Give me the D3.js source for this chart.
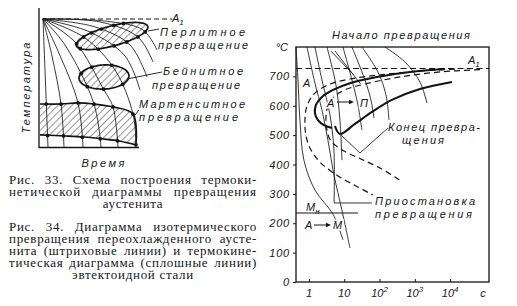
<!DOCTYPE html>
<html>
<head>
<meta charset="utf-8">
<script src="https://cdn.jsdelivr.net/npm/d3@7"></script>
<style>
  html, body { margin: 0; padding: 0; background: #fff; }
  svg { display: block; }
  .lab { font-family: "Liberation Sans", Arial, sans-serif; font-style: italic; fill: #161616; }
  .cap { font-family: "Liberation Serif", "Times New Roman", serif; fill: #161616; }
</style>
</head>
<body>
<svg id="chart" width="517" height="306"></svg>
<script>
// ---- Рис. 33: schematic in relative units (time 0..130, temperature 0..100, A1 = 100)
const schemeFan = [
    [[3, 100], [5, 60], [8, 0]],
    [[3, 100], [12, 71], [21, 33.6], [24, 0]],
    [[3, 100], [18, 75], [38, 34.4], [43, 0]],
    [[3, 100], [25, 79.7], [54, 33.6], [61, 0]],
    [[3, 100], [35, 82], [64, 44.5], [73, 31.3], [78, 0]],
    [[3, 100], [45, 85.2], [75, 60.2], [93, 25.8], [96, 0]],
    [[3, 100], [50, 89.8], [85, 71.1], [100, 44.5]],
    [[3, 100], [55, 93.8], [90, 79.7], [107, 54.7]],
    [[3, 100], [60, 97.7], [98, 85.9], [113, 66.4]],
    [[3, 100], [65, 98.4], [103, 91.4], [117, 75.8]]
];
const pearliteZone = {t: 72, T: 86.7, rt: 37, rT: 7.8, tilt: -15};
const bainiteZone = {t: 64, T: 54.7, rt: 25, rT: 9.4, tilt: -3};
const martensiteTop = [[0, 33.6], [21, 33.6], [38, 34.4], [54, 33.6], [73, 31.3], [93, 25.8], [96, 2]];
const martensiteBottom = [[96, 1.6], [79, 4.7], [63, 6.3], [44, 7.8], [26, 8.6], [0, 9.4]];

// ---- Рис. 34: time in seconds (log), temperature in °C
const xTicks = [1, 10, 100, 1000, 10000];
const xTickLabels = [["1", ""], ["10", ""], ["10", "2"], ["10", "3"], ["10", "4"]];
const yTicks = [0, 100, 200, 300, 400, 500, 600, 700];
const tempA1 = 727;
const tempMs = 235;
const msEnd = 24.4;

// isothermal diagram (dashed)
const startIso = [[13680, 725], [1394, 718], [102.6, 705], [14.5, 691], [3.45, 671], [1.39, 640], [0.88, 599],
    [0.77, 551], [0.82, 500], [1.07, 456], [2.05, 408], [6.63, 361], [21.4, 327], [65, 296]];
const endIso = [[69800, 723], [5140, 715], [378, 698], [38.6, 674], [10.5, 654], [5.11, 630], [3.45, 599],
    [3.03, 558], [3.24, 517], [4.2, 480], [9.8, 446], [29.7, 419], [102.6, 388], [378, 347]];

// thermokinetic diagram (heavy solid)
const startCct = [[7130, 725], [726, 715], [84.4, 698], [14.5, 677], [4.79, 654], [2.33, 630], [1.58, 603],
    [1.48, 575], [1.8, 551], [2.66, 534], [4.48, 524]];
const endCct = [[5.45, 531], [7.55, 504], [20, 538], [60.9, 579], [224, 620], [1394, 657], [11250, 681]];

// cooling curves (thin solid)
const coolingCurves = [
    [[0.43, 800], [0.49, 688], [0.556, 551], [0.72, 415], [1.48, 313], [4.79, 231], [9.2, 143]],
    [[0.88, 800], [1.48, 677], [2.33, 586], [3.45, 483], [5.1, 364], [8.6, 245], [14.5, 116]],
    [[1.48, 800], [2.33, 688], [3.94, 569], [5.1, 449], [5.15, 269]],
    [[3.24, 800], [5.82, 671], [7.55, 551], [8.6, 415]],
    [[9.2, 800], [16.5, 688], [24.4, 603], [31.7, 517]],
    [[16.5, 800], [38.6, 688], [57, 620], [69.4, 558]],
    [[31.7, 800], [90, 715], [152, 637], [185, 551]],
    [[142, 800], [525, 749], [1394, 681], [2200, 609]]
];

// label leaders
const leaderStart = [[[4.2, 786], [18.5, 705]], [[5.5, 786], [29, 674]]];
const leaderEnd = [[173, 524], [27.9, 439], [7.55, 504]];
const leaderPause = [[5.15, 269], [60.9, 269]];

const captions = [
    {text: "Рис. 33. Схема построения термоки-", y: 184, justify: true},
    {text: "нетической диаграммы превращения", y: 196, justify: true},
    {text: "аустенита", y: 208, justify: false},
    {text: "Рис. 34. Диаграмма изотермического", y: 231, justify: true},
    {text: "превращения переохлажденного аусте-", y: 243, justify: true},
    {text: "нита (штриховые линии) и термокине-", y: 255, justify: true},
    {text: "тическая диаграмма (сплошные линии)", y: 267, justify: true},
    {text: "эвтектоидной стали", y: 279, justify: false}
];

const ink = "#141414";
const svg = d3.select("#chart");

const defs = svg.append("defs");
defs.append("pattern")
    .attr("id", "hatch")
    .attr("patternUnits", "userSpaceOnUse")
    .attr("width", 5).attr("height", 5)
    .attr("patternTransform", "rotate(45)")
    .append("line")
    .attr("x1", 0).attr("y1", 0).attr("x2", 0).attr("y2", 5)
    .attr("stroke", ink).attr("stroke-width", 0.9);

function label(g, x, y, str, w, size) {
    const t = g.append("text")
        .attr("class", "lab")
        .attr("x", x).attr("y", y)
        .attr("font-size", size || 11)
        .text(str);
    if (w) t.attr("textLength", w).attr("lengthAdjust", "spacing");
    return t;
}

function subLabel(g, x, y, main, sub, size) {
    const t = g.append("text").attr("class", "lab").attr("x", x).attr("y", y).attr("font-size", size || 11);
    t.append("tspan").text(main);
    t.append("tspan").attr("dy", 3).attr("font-size", (size || 11) - 3).text(sub);
    return t;
}

function samplePath(node, n) {
    const len = node.getTotalLength();
    return d3.range(n + 1).map(i => {
        const p = node.getPointAtLength(len * i / n);
        return [p.x, p.y];
    });
}

drawScheme();
drawDiagram();
drawCaptions();

function drawScheme() {
    const sx = d3.scaleLinear().domain([0, 130]).range([40, 170]);
    const sy = d3.scaleLinear().domain([0, 100]).range([147, 19]);
    const g = svg.append("g");

    function ellipsePts(z) {
        const cx = sx(z.t), cy = sy(z.T);
        const rx = sx(z.t + z.rt) - cx, ry = sy(z.T) - sy(z.T + z.rT);
        const a = z.tilt * Math.PI / 180;
        return d3.range(90).map(i => {
            const th = i / 90 * 2 * Math.PI;
            const ex = rx * Math.cos(th), ey = ry * Math.sin(th);
            return [cx + ex * Math.cos(a) - ey * Math.sin(a), cy + ex * Math.sin(a) + ey * Math.cos(a)];
        });
    }

    // martensite band
    const mLine = d3.line().x(d => sx(d[0])).y(d => sy(d[1])).curve(d3.curveCatmullRom);
    const mPath = mLine(martensiteTop) + "L" + mLine(martensiteBottom).slice(1) + "Z";
    g.append("path").attr("d", mPath).attr("fill", "url(#hatch)").attr("stroke", "none");
    g.append("path").attr("d", mLine(martensiteTop)).attr("fill", "none").attr("stroke", ink).attr("stroke-width", 1.7);
    g.append("path").attr("d", mLine(martensiteBottom)).attr("fill", "none").attr("stroke", ink).attr("stroke-width", 1.7);
    const mNode = g.append("path").attr("d", mPath).attr("fill", "none").attr("stroke", "none").node();
    const mPoly = samplePath(mNode, 300);

    // ellipses
    const polys = [mPoly];
    [pearliteZone, bainiteZone].forEach(z => {
        const pts = ellipsePts(z);
        polys.push(pts);
        g.append("path")
            .attr("d", d3.line().curve(d3.curveLinearClosed)(pts))
            .attr("fill", "url(#hatch)")
            .attr("stroke", ink)
            .attr("stroke-width", 1.7);
    });

    // axes
    g.append("line").attr("x1", 39).attr("y1", 8).attr("x2", 39).attr("y2", 147.5)
        .attr("stroke", ink).attr("stroke-width", 1.3);
    g.append("line").attr("x1", 38.5).attr("y1", 147.5).attr("x2", 139).attr("y2", 147.5)
        .attr("stroke", ink).attr("stroke-width", 1.3);

    // A1
    g.append("line")
        .attr("x1", sx(2)).attr("x2", sx(132))
        .attr("y1", sy(100)).attr("y2", sy(100))
        .attr("stroke", ink).attr("stroke-width", 1.1)
        .attr("stroke-dasharray", "5,3");

    // cooling fan and the transformation points on it
    const fanLine = d3.line().x(d => sx(d[0])).y(d => sy(d[1])).curve(d3.curveCatmullRom);
    const dots = [];
    schemeFan.forEach(c => {
        const node = g.append("path")
            .attr("d", fanLine(c))
            .attr("fill", "none")
            .attr("stroke", ink)
            .attr("stroke-width", 0.85)
            .node();
        const pts = samplePath(node, 400);
        polys.forEach(poly => {
            let inside = d3.polygonContains(poly, pts[0]);
            pts.forEach(p => {
                const now = d3.polygonContains(poly, p);
                if (now !== inside && p[1] < 146) dots.push(p);
                inside = now;
            });
        });
    });
    g.selectAll(".dot").data(dots).enter().append("circle")
        .attr("class", "dot")
        .attr("cx", d => d[0]).attr("cy", d => d[1])
        .attr("r", 1.9).attr("fill", ink);

    // leaders
    const leaders = [[[148, 31], [159, 29]], [[127, 79], [162, 72]], [[135, 115], [139, 110]]];
    leaders.forEach(l => g.append("line")
        .attr("x1", l[0][0]).attr("y1", l[0][1]).attr("x2", l[1][0]).attr("y2", l[1][1])
        .attr("stroke", ink).attr("stroke-width", 0.9));

    subLabel(g, 172, 22, "A", "1");
    label(g, 160, 36, "Перлитное", 85);
    label(g, 158, 49, "превращение", 90);
    label(g, 163, 75, "Бейнитное", 80);
    label(g, 152, 89, "превращение", 88);
    label(g, 139, 108, "Мартенситное", 106);
    label(g, 139, 121, "превращение", 99);
    label(g, 0, 0, "Температура", 91)
        .attr("text-anchor", "middle")
        .attr("transform", "translate(30,88) rotate(-90)");
    label(g, 103, 167, "Время", 43).attr("text-anchor", "middle");
}

function drawDiagram() {
    const x = d3.scaleLog().domain([0.43, 126000]).range([296, 489]);
    const y = d3.scaleLinear().domain([0, 800]).range([282, 47]);
    const g = svg.append("g");

    const line = d3.line().x(d => x(d[0])).y(d => y(d[1])).curve(d3.curveCatmullRom);

    // frame
    g.append("rect")
        .attr("x", x.range()[0]).attr("y", y.range()[1])
        .attr("width", x.range()[1] - x.range()[0])
        .attr("height", y.range()[0] - y.range()[1])
        .attr("fill", "none").attr("stroke", ink).attr("stroke-width", 1.3);

    // axes ticks
    const yAxis = g.append("g")
        .attr("transform", "translate(" + x.range()[0] + ",0)")
        .call(d3.axisLeft(y).tickValues(yTicks).tickSize(3).tickPadding(3));
    yAxis.select(".domain").remove();
    yAxis.selectAll("line").attr("stroke", ink);
    yAxis.selectAll("text")
        .attr("class", "lab")
        .attr("font-size", 11)
        .attr("font-family", null)
        .attr("letter-spacing", 0.8);

    const xAxis = g.append("g")
        .attr("transform", "translate(0," + y.range()[0] + ")")
        .call(d3.axisBottom(x).tickValues(xTicks).tickSize(-3).tickFormat(""));
    xAxis.select(".domain").remove();
    xAxis.selectAll("line").attr("stroke", ink);

    xTicks.forEach((v, i) => {
        const t = g.append("text").attr("class", "lab")
            .attr("x", x(v)).attr("y", 297)
            .attr("font-size", 11)
            .attr("text-anchor", "middle");
        t.append("tspan").text(xTickLabels[i][0]);
        if (xTickLabels[i][1]) t.append("tspan").attr("dy", -5).attr("font-size", 8).text(xTickLabels[i][1]);
    });
    label(g, 483, 297, "c").attr("text-anchor", "middle");
    label(g, 288, 51, "°C").attr("text-anchor", "end");

    // A1 and Mн
    g.append("line")
        .attr("x1", x.range()[0]).attr("x2", x.range()[1])
        .attr("y1", y(tempA1)).attr("y2", y(tempA1))
        .attr("stroke", ink).attr("stroke-width", 1.1).attr("stroke-dasharray", "6,3.5");
    g.append("line")
        .attr("x1", x.range()[0]).attr("x2", x(msEnd))
        .attr("y1", y(tempMs)).attr("y2", y(tempMs))
        .attr("stroke", ink).attr("stroke-width", 1.1);

    // isothermal C-curves
    [startIso, endIso].forEach(c => g.append("path")
        .attr("d", line(c))
        .attr("fill", "none").attr("stroke", ink)
        .attr("stroke-width", 1.2).attr("stroke-dasharray", "6,4"));

    // cooling curves
    coolingCurves.forEach(c => g.append("path")
        .attr("d", line(c))
        .attr("fill", "none").attr("stroke", ink).attr("stroke-width", 0.85));

    // thermokinetic curves
    [startCct, endCct].forEach(c => g.append("path")
        .attr("d", line(c))
        .attr("fill", "none").attr("stroke", ink)
        .attr("stroke-width", 2.1).attr("stroke-linejoin", "round"));

    // leaders
    const straight = d3.line().x(d => x(d[0])).y(d => y(d[1]));
    leaderStart.concat([leaderEnd, leaderPause]).forEach(l => g.append("path")
        .attr("d", straight(l))
        .attr("fill", "none").attr("stroke", ink).attr("stroke-width", 0.85));

    // labels
    subLabel(g, 468, 64, "A", "1");
    label(g, 303, 87, "A");
    label(g, 327, 107, "A").attr("stroke", "#fff").attr("stroke-width", 3).attr("paint-order", "stroke");
    label(g, 360, 107, "П").attr("stroke", "#fff").attr("stroke-width", 3).attr("paint-order", "stroke");
    subLabel(g, 306, 211, "M", "н");
    label(g, 305, 229, "A").attr("stroke", "#fff").attr("stroke-width", 3).attr("paint-order", "stroke");
    label(g, 333, 229, "M").attr("stroke", "#fff").attr("stroke-width", 3).attr("paint-order", "stroke");

    const arrows = [[337, 102, 354], [314, 225, 331]];
    arrows.forEach(a => {
        g.append("line").attr("x1", a[0]).attr("y1", a[1]).attr("x2", a[2] - 3).attr("y2", a[1])
            .attr("stroke", ink).attr("stroke-width", 1);
        g.append("path")
            .attr("d", "M" + a[2] + "," + a[1] + "l-5,-2.2v4.4z")
            .attr("fill", ink);
    });

    label(g, 332, 39, "Начало превращения", 138);
    label(g, 388, 131, "Конец превра-", 92);
    label(g, 402, 144, "щения", 42);
    label(g, 375, 205, "Приостановка", 100);
    label(g, 375, 218, "превращения", 97);
}

function drawCaptions() {
    const g = svg.append("g");
    const left = 9, right = 257;
    const baseSpacing = 0.7, maxGap = 7;
    captions.forEach(c => {
        const t = g.append("text")
            .attr("class", "cap")
            .attr("font-size", 13)
            .attr("letter-spacing", baseSpacing)
            .attr("y", c.y)
            .text(c.text);
        if (c.justify) {
            t.attr("x", left);
            const natural = t.node().getComputedTextLength();
            const gaps = c.text.split(" ").length - 1;
            const spare = right - left - natural;
            // spread the spare room over word gaps first, then over letters
            const wordGap = Math.max(0, Math.min(maxGap, spare / gaps));
            const letterExtra = (spare - wordGap * gaps) / c.text.length;
            t.attr("word-spacing", wordGap).attr("letter-spacing", baseSpacing + letterExtra);
        } else {
            t.attr("x", (left + right) / 2).attr("text-anchor", "middle");
        }
    });
}
</script>
</body>
</html>
